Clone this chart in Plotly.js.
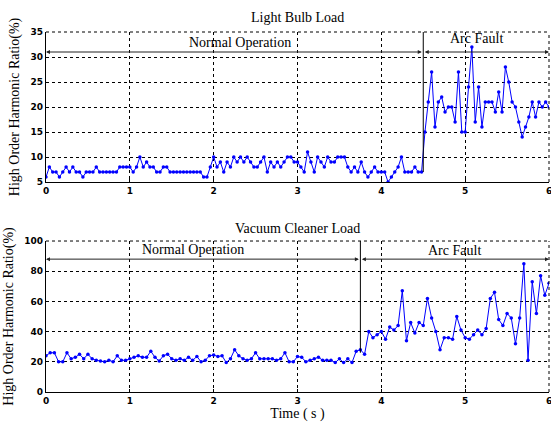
<!DOCTYPE html>
<html>
<head>
<meta charset="utf-8">
<script src="https://cdn.plot.ly/plotly-3.0.1.min.js"></script>
<style>html,body{margin:0;padding:0;background:#fff;}#chart{width:551px;height:422px;}</style>
</head>
<body>
<div id="chart"></div>
<script>
// ---- data ----
const topTitle = "Light Bulb Load";
const bottomTitle = "Vacuum Cleaner Load";
const yTitle = "High Order Harmonic Ratio(%)";
const xTitle = "Time ( s )";
const phaseLabels = ["Normal Operation", "Arc Fault"];

// Light bulb load: sampled every 0.04 s from 0 to 6 s
const bulbStep = 0.04;
const bulbValues = [
  6,8,7,7,6,7,8,7,8,7,7,6,7,7,7,8,7,7,7,7,
  7,7,8,8,8,8,7,8,10,8,9,8,8,7,7,8,8,7,7,7,
  7,7,7,7,7,7,7,6,6,8,10,8,9,7,9,8,10,9,10,9,
  10,9,8,8,9,10,7,9,8,9,8,9,10,10,9,9,8,7,11,9,
  7,10,9,8,10,9,9,10,10,10,8,7,8,7,9,7,6,7,8,7,
  7,7,5,6,7,8,10,7,7,7,8,7,7,15,21,27,16,21,22,19,
  20,20,17,27,15,15,24,32,17,24,16,21,21,21,19,23,19,28,25,21,
  20,17,14,16,18,21,18,21,20,21,20
];
const bulbFaultTime = 4.5;

// Vacuum cleaner load: sampled every 0.05 s from 0 to 6 s
const vacStep = 0.05;
const vacValues = [
  24,26,26,20,20,26,22,23,25,22,25,22,21,20.5,20,21,20,24,21,21,
  22,23,24,23,23,27,23,20.5,24,25,22,21,22,21,23,21,23.5,20,21,24,
  24.5,23.5,24,19.5,22,28,24,22,21,22,26,22,22,22,22,21,22,26,20,20,
  23.5,23,20,21,22,23,21,21,21,19.5,22,19.5,22,19.5,27,28,25,40,36,38,
  40,35,43,41,44,67,34,46,39,46,44,62,49,40,28,36,36,35,50,41,
  36,35,38,41,38,42,62,66,48,44,52,49,32,49,85,21,73,52,77,64,
  72
];
const vacFaultTime = 3.75;

const xTicks = [0,1,2,3,4,5,6];
const bulbYTicks = [5,10,15,20,25,30,35];
const vacYTicks = [0,20,40,60,80,100];

// ---- build ----
const bulbX = bulbValues.map((_, i) => +(i * bulbStep).toFixed(3));
const vacX = vacValues.map((_, i) => +(i * vacStep).toFixed(3));

const blue = "#0000ff";
const serif = "Liberation Serif, Times New Roman, serif";
const tickFont = {family: "DejaVu Sans, Arial, sans-serif", size: 9, color: "#000", weight: 700};
const gridDash = "3px,3px";

const traces = [
  {x: bulbX, y: bulbValues, xaxis: "x", yaxis: "y", mode: "lines+markers",
   line: {color: blue, width: 1}, marker: {color: blue, size: 3.5}, hoverinfo: "skip"},
  {x: vacX, y: vacValues, xaxis: "x2", yaxis: "y2", mode: "lines+markers",
   line: {color: blue, width: 1}, marker: {color: blue, size: 3.5}, hoverinfo: "skip"}
];

function xAxis(anchor, withTitle) {
  const a = {
    domain: [0, 1], anchor: anchor, range: [0, 6], tickvals: xTicks,
    showgrid: true, gridcolor: "#000", griddash: gridDash, gridwidth: 1,
    showline: true, linecolor: "#000", linewidth: 1.2, mirror: false,
    ticks: "inside", ticklen: 3, tickcolor: "#000", ticklabeloverflow: "allow",
    tickfont: tickFont, zeroline: false, fixedrange: true
  };
  if (withTitle) a.title = {text: xTitle, font: {family: serif, size: 14, color: "#000"}, standoff: 3};
  return a;
}
function yAxis(anchor, domain, range, ticks) {
  return {
    domain: domain, anchor: anchor, range: range, tickvals: ticks,
    showgrid: true, gridcolor: "#000", griddash: gridDash, gridwidth: 1,
    showline: true, linecolor: "#000", linewidth: 1.2, mirror: false,
    ticks: "inside", ticklen: 3, tickcolor: "#000",
    tickfont: tickFont, zeroline: false, fixedrange: true,
    title: {text: yTitle, font: {family: serif, size: 14, color: "#000"}, standoff: 7}
  };
}

const bulbArrowY = 31;
const vacArrowY = 88;
const textFont = {family: serif, size: 14, color: "#000"};
const arrowStyle = {text: "", showarrow: true, arrowside: "end+start", arrowhead: 2,
  arrowsize: 0.8, arrowwidth: 1, arrowcolor: "#222"};

const annotations = [
  {text: topTitle, xref: "paper", yref: "paper", x: 0.5, y: 1.0, yanchor: "middle", yshift: 15, showarrow: false, font: textFont},
  {text: bottomTitle, xref: "paper", yref: "paper", x: 0.5, y: 0.4194, yanchor: "middle", yshift: 13, showarrow: false, font: textFont},
  Object.assign({x: 0, y: bulbArrowY, ax: bulbFaultTime, ay: bulbArrowY, xref: "x", yref: "y", axref: "x", ayref: "y"}, arrowStyle),
  Object.assign({x: 6, y: bulbArrowY, ax: bulbFaultTime, ay: bulbArrowY, xref: "x", yref: "y", axref: "x", ayref: "y"}, arrowStyle),
  {text: phaseLabels[0], x: 2.32, y: 32.9, xref: "x", yref: "y", showarrow: false, font: textFont},
  {text: phaseLabels[1], x: 5.13, y: 33.7, xref: "x", yref: "y", showarrow: false, font: textFont},
  Object.assign({x: 0, y: vacArrowY, ax: vacFaultTime, ay: vacArrowY, xref: "x2", yref: "y2", axref: "x2", ayref: "y2"}, arrowStyle),
  Object.assign({x: 6, y: vacArrowY, ax: vacFaultTime, ay: vacArrowY, xref: "x2", yref: "y2", axref: "x2", ayref: "y2"}, arrowStyle),
  {text: phaseLabels[0], x: 1.75, y: 94.5, xref: "x2", yref: "y2", showarrow: false, font: textFont},
  {text: phaseLabels[1], x: 4.87, y: 94, xref: "x2", yref: "y2", showarrow: false, font: textFont}
];

const borderLine = {color: "#000", width: 1, dash: gridDash};
const shapes = [
  {type: "line", xref: "x", yref: "y", x0: bulbFaultTime, x1: bulbFaultTime, y0: 7, y1: 35,
   line: {color: "#000", width: 1}},
  {type: "line", xref: "x2", yref: "y2", x0: vacFaultTime, x1: vacFaultTime, y0: 26, y1: 100,
   line: {color: "#000", width: 1}},
  // dashed top and right borders
  {type: "line", xref: "x domain", yref: "y domain", x0: 0, x1: 1, y0: 1, y1: 1, line: borderLine},
  {type: "line", xref: "x domain", yref: "y domain", x0: 1, x1: 1, y0: 0, y1: 1, line: borderLine},
  {type: "line", xref: "x2 domain", yref: "y2 domain", x0: 0, x1: 1, y0: 1, y1: 1, line: borderLine},
  {type: "line", xref: "x2 domain", yref: "y2 domain", x0: 1, x1: 1, y0: 0, y1: 1, line: borderLine}
];

const layout = {
  width: 551, height: 422,
  margin: {l: 46, r: 1.5, t: 32, b: 30},
  paper_bgcolor: "#fff", plot_bgcolor: "#fff",
  showlegend: false,
  xaxis: xAxis("y", false),
  yaxis: yAxis("x", [0.5833, 1], [5, 35], bulbYTicks),
  xaxis2: xAxis("y2", true),
  yaxis2: yAxis("x2", [0, 0.4194], [0, 100], vacYTicks),
  annotations: annotations,
  shapes: shapes
};

Plotly.newPlot("chart", traces, layout, {staticPlot: true, displayModeBar: false});
</script>
</body>
</html>
